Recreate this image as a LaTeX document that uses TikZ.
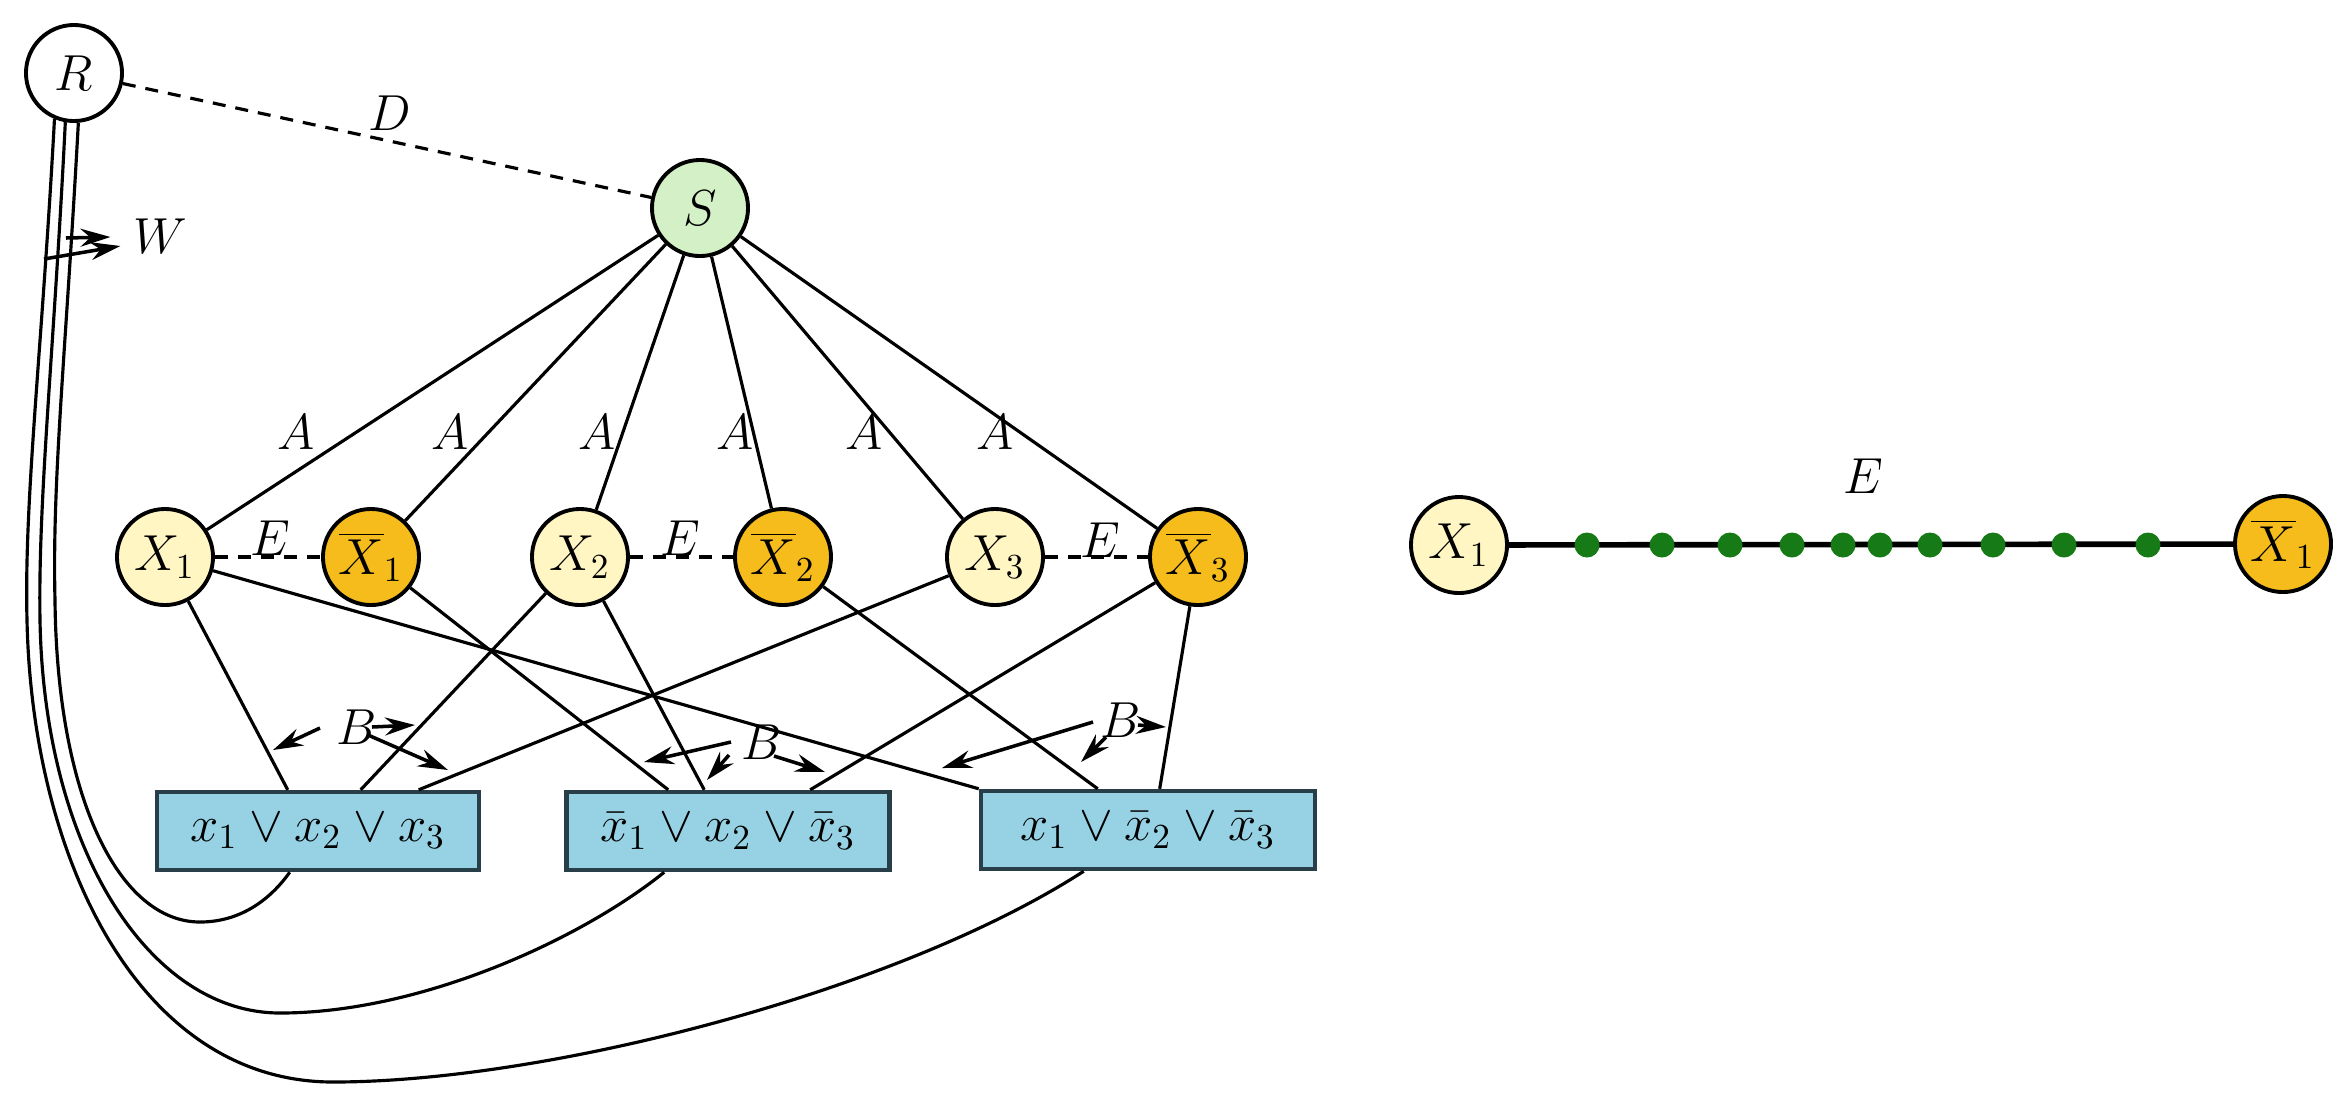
\documentclass[tikz,border=0pt]{standalone}
\usetikzlibrary{arrows.meta,calc}
\definecolor{xlight}{RGB}{255,246,196}
\definecolor{xdark}{RGB}{246,188,28}
\definecolor{sgreen}{RGB}{212,240,198}
\definecolor{cblue}{RGB}{150,210,228}
\definecolor{cborder}{RGB}{40,62,72}
\definecolor{dotgreen}{RGB}{22,122,22}
\begin{document}
\begin{tikzpicture}[x=0.01cm,y=-0.01cm,
  font=\fontsize{14}{17}\selectfont,
  vnode/.style={circle,draw,line width=1.1pt,minimum size=0.96cm,inner sep=0pt},
  posnode/.style={vnode,fill=xlight},
  negnode/.style={vnode,fill=xdark},
  clausebox/.style={rectangle,draw=cborder,line width=1.25pt,fill=cblue,minimum height=0.78cm,inner sep=0pt},
  wire/.style={line width=0.9pt},
  dashwire/.style={line width=0.9pt,dash pattern=on 0.13cm off 0.1cm},
  barrow/.style={line width=1pt,-{Stealth[length=0.3cm,width=0.18cm,inset=0.1cm]}},
  lbl/.style={inner sep=0pt},
  gdot/.style={circle,fill=dotgreen,minimum size=0.25cm,inner sep=0pt}
]
\useasboundingbox (0,0) rectangle (2351,1108);

% main nodes
\node[vnode,fill=white] (R) at (74,73) {$R$};
\node[vnode,fill=sgreen] (S) at (700,208) {$S$};
\node[posnode] (X1) at (165,557) {$X_1$};
\node[negnode] (N1) at (371,557) {$\overline{X}_1$};
\node[posnode] (X2) at (580,557) {$X_2$};
\node[negnode] (N2) at (783,557) {$\overline{X}_2$};
\node[posnode] (X3) at (995,557) {$X_3$};
\node[negnode] (N3) at (1198,557) {$\overline{X}_3$};

\node[clausebox,minimum width=3.22cm] (C1) at (318,831) {$x_1\vee x_2\vee x_3$};
\node[clausebox,minimum width=3.23cm] (C2) at (728,831) {$\bar{x}_1\vee x_2\vee\bar{x}_3$};
\node[clausebox,minimum width=3.34cm] (C3) at (1148,830) {$x_1\vee\bar{x}_2\vee\bar{x}_3$};

% R -- S
\draw[dashwire] (R) -- (S);
\node[lbl] (D) at (390,113) {$D$};

% S -- literals
\foreach \n in {X1,N1,X2,N2,X3,N3} \draw[wire] (S) -- (\n);
\node[lbl] (a1) at (296,432) {$A$};
\node[lbl] (a2) at (450,432) {$A$};
\node[lbl] (a3) at (597,432) {$A$};
\node[lbl] (a4) at (735,432) {$A$};
\node[lbl] (a5) at (864,432) {$A$};
\node[lbl] (a6) at (995,432) {$A$};

% E edges
\draw[dashwire] (X1) -- (N1);
\draw[dashwire] (X2) -- (N2);
\draw[dashwire] (X3) -- (N3);
\node[lbl] (e1) at (270,538) {$E$};
\node[lbl] (e2) at (680,538) {$E$};
\node[lbl] (e3) at (1100,540) {$E$};

% literal -- clause edges
\draw[wire] (X1) -- ($(C1.north west)+(133,0)$);
\draw[wire] (X2) -- ($(C1.north west)+(206,0)$);
\draw[wire] (X3) -- ($(C1.north west)+(264,0)$);
\draw[wire] (N1) -- ($(C2.north west)+(104,0)$);
\draw[wire] (X2) -- ($(C2.north west)+(140,0)$);
\draw[wire] (N3) -- ($(C2.north west)+(246,0)$);
\draw[wire] (X1) -- (C3.north west);
\draw[wire] (N2) -- ($(C3.north west)+(119,0)$);
\draw[wire] (N3) -- ($(C3.north west)+(181,0)$);

% B labels and arrows
\node[lbl] (b1) at (357,727) {$B$};
\draw[barrow] ($(b1)+(-37,1)$) -- ($(b1)+(-84,23)$);
\draw[barrow] ($(b1)+(15,0)$) -- ($(b1)+(58,-2)$);
\draw[barrow] ($(b1)+(11,8)$) -- ($(b1)+(91,43)$);
\node[lbl] (b2) at (762,742) {$B$};
\draw[barrow] ($(b2)+(-31,0)$) -- ($(b2)+(-118,20)$);
\draw[barrow] ($(b2)+(-33,13)$) -- ($(b2)+(-55,38)$);
\draw[barrow] ($(b2)+(12,14)$) -- ($(b2)+(63,30)$);
\node[lbl] (b3) at (1121,720) {$B$};
\draw[barrow] ($(b3)+(-28,2)$) -- ($(b3)+(-179,48)$);
\draw[barrow] ($(b3)+(-15,17)$) -- ($(b3)+(-40,42)$);
\draw[barrow] ($(b3)+(17,5)$) -- ($(b3)+(45,7)$);

% R -- clause wires
\draw[wire] (R.247) .. controls (42,350) and (24,500) .. (27,620)
   .. controls (32,860) and (140,1082) .. (333,1082)
   .. controls (550,1082) and (900,990) .. ($(C3.south west)+(105,0)$);
\draw[wire] (R.260) .. controls (54,350) and (38,500) .. (40,620)
   .. controls (44,850) and (150,1013) .. (280,1013)
   .. controls (420,1013) and (580,940) .. ($(C2.south west)+(100,0)$);
\draw[wire] (R.275) .. controls (66,350) and (52,480) .. (55,600)
   .. controls (57,800) and (120,922) .. (200,922)
   .. controls (240,922) and (270,900) .. ($(C1.south west)+(135,0)$);

% W
\node[lbl] (W) at (160,236) {$W$};
\coordinate (w0) at (44,259);
\coordinate (w1) at (66,238);
\draw[barrow] (w0) -- ($(W.west)+(-12,10)$);
\draw[barrow] (w1) -- ($(W.west)+(-22,1)$);

% right part
\node[posnode] (Y1) at (1459,545) {$X_1$};
\node[negnode] (Z1) at (2283,544) {$\overline{X}_1$};
\draw[line width=1.6pt] (Y1) -- (Z1);
\foreach \x in {1587,1662,1730,1792,1843,1880,1930,1993,2064,2148}
  \node[gdot] (d\x) at (\x,545) {};
\node[lbl] (E4) at (1863,476) {$E$};
\end{tikzpicture}
\end{document}
